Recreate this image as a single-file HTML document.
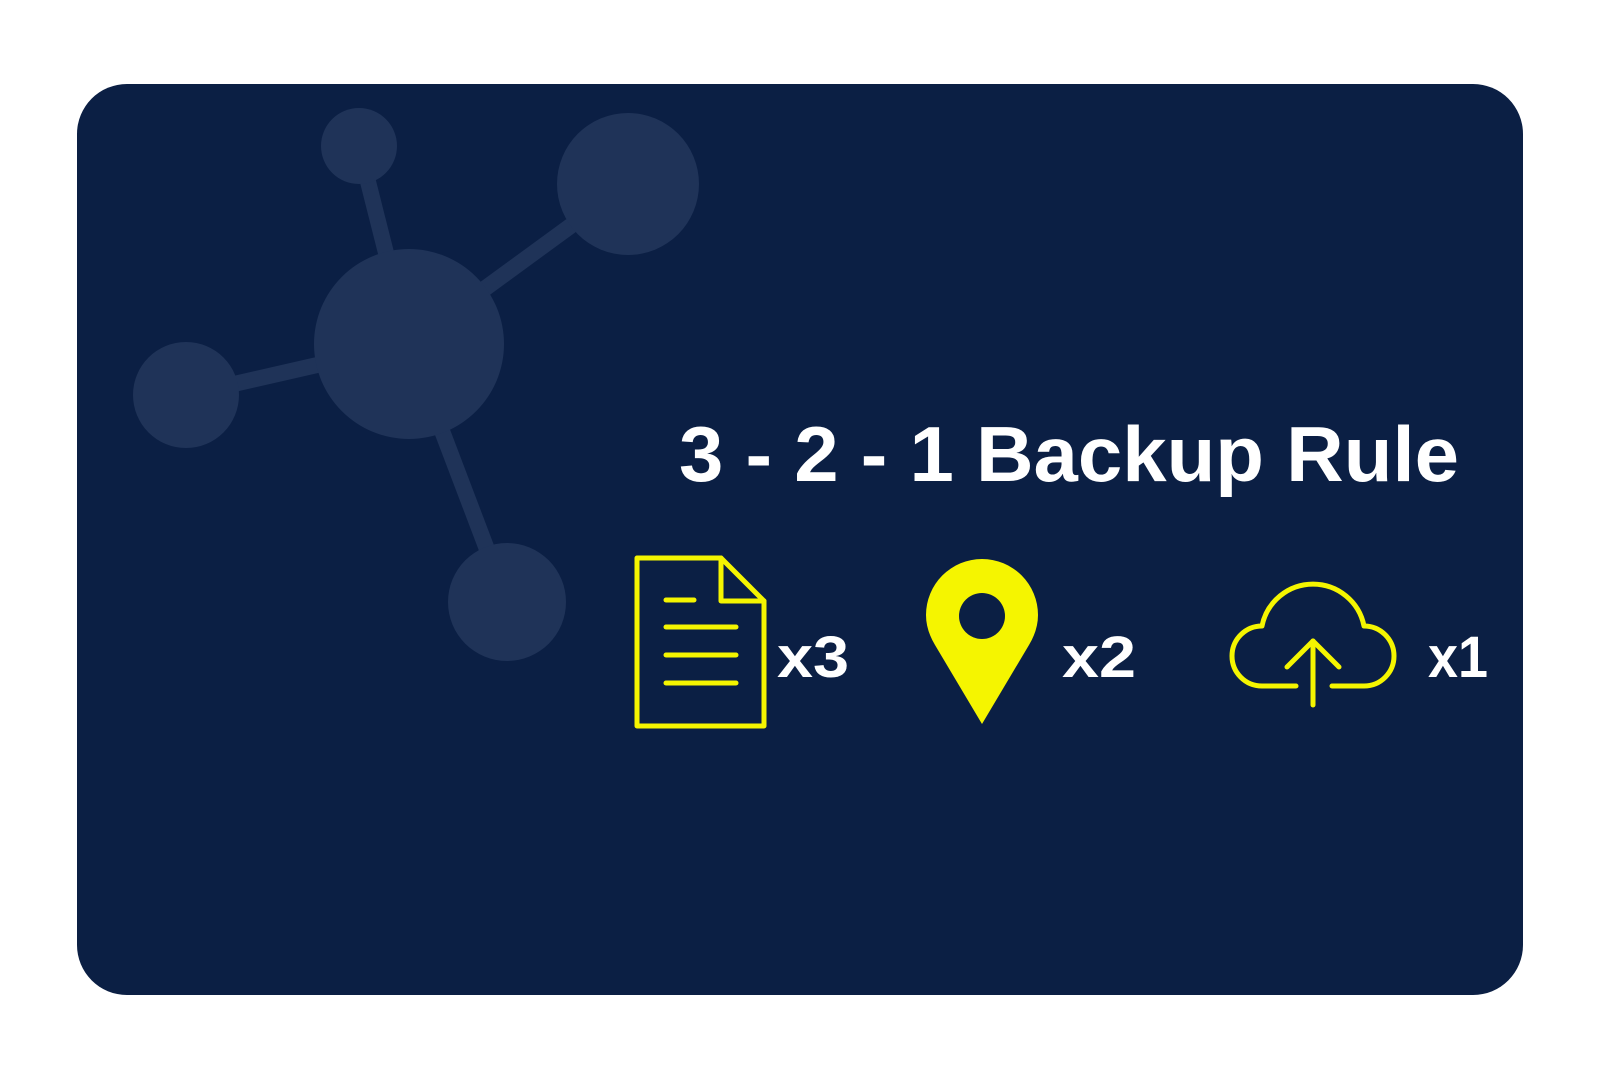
<!DOCTYPE html>
<html><head><meta charset="utf-8"><style>
html,body{margin:0;padding:0;background:#fff;width:1600px;height:1080px;overflow:hidden}
svg{display:block}
text{font-family:"Liberation Sans",sans-serif;font-weight:bold;fill:#fff}
</style></head><body>
<svg width="1600" height="1080" viewBox="0 0 1600 1080">
<rect x="77" y="84" width="1446" height="911" rx="50" fill="#0b1f44"/>
<g stroke="#1f3358" stroke-width="16">
<line x1="409" y1="344" x2="359" y2="146"/>
<line x1="409" y1="344" x2="628" y2="184"/>
<line x1="409" y1="344" x2="186" y2="395"/>
<line x1="409" y1="344" x2="507" y2="602"/>
</g>
<g fill="#1f3358">
<circle cx="409" cy="344" r="95"/>
<circle cx="359" cy="146" r="38"/>
<circle cx="628" cy="184" r="71"/>
<circle cx="186" cy="395" r="53"/>
<circle cx="507" cy="602" r="59"/>
</g>
<text x="679" y="481" font-size="78" textLength="780" lengthAdjust="spacingAndGlyphs">3 - 2 - 1 Backup Rule</text>
<!-- document -->
<g fill="none" stroke="#f5f500" stroke-width="5" stroke-linejoin="round" stroke-linecap="round">
<path d="M637 558 H721 L764 601 V726 H637 Z"/>
<path d="M721 558 V601 H764"/>
<line x1="666" y1="600" x2="694" y2="600"/>
<line x1="666" y1="627" x2="736" y2="627"/>
<line x1="666" y1="655" x2="736" y2="655"/>
<line x1="666" y1="683" x2="736" y2="683"/>
</g>
<text x="777" y="677" font-size="58" textLength="72" lengthAdjust="spacingAndGlyphs">x3</text>
<!-- pin -->
<path d="M982 724 L935 645 Q926 630 926 615 A56 56 0 0 1 1038 615 Q1038 630 1029 645 Z" fill="#f5f500"/>
<circle cx="982" cy="616" r="23" fill="#0b1f44"/>
<text x="1062" y="677" font-size="58" textLength="74" lengthAdjust="spacingAndGlyphs">x2</text>
<!-- cloud -->
<g fill="none" stroke="#f5f500" stroke-width="5" stroke-linecap="round" stroke-linejoin="round">
<path d="M1296 686 H1262 A30 30 0 0 1 1262 626 A52 52 0 0 1 1364 626 A30 30 0 0 1 1364 686 H1332"/>
<line x1="1313" y1="641" x2="1313" y2="705"/>
<polyline points="1287,667 1313,641 1339,667"/>
</g>
<text x="1428" y="677" font-size="58" textLength="60" lengthAdjust="spacingAndGlyphs">x1</text>
</svg>
</body></html>
